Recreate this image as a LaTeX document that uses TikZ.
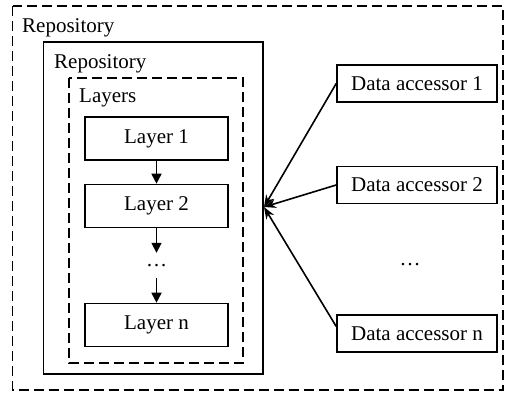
\documentclass[tikz,border=0pt]{standalone}
\usepackage{fontspec}
\setmainfont{Liberation Serif}
\usetikzlibrary{arrows.meta}
\begin{document}
\begin{tikzpicture}[x=1pt,y=-1pt,
  box/.style={draw,line width=1.6pt,minimum width=143pt,minimum height=43pt,inner sep=0pt,font=\fontsize{21}{24}\selectfont},
  dbox/.style={draw,line width=1.6pt,minimum width=160pt,minimum height=37pt,inner sep=0pt,font=\fontsize{21}{24}\selectfont},
  frame/.style={line width=1.6pt},
  dashframe/.style={line width=1.6pt,dash pattern=on 10pt off 5pt},
  lbl/.style={anchor=base west,inner sep=0pt,font=\fontsize{21}{24}\selectfont},
  larrow/.style={line width=1.6pt,-{Triangle[length=10pt,width=10pt]}},
  darrow/.style={line width=1.6pt,-{Stealth[length=12pt,width=9pt]}}]
\useasboundingbox (0,0) rectangle (506,392);
\draw[dashframe] (12.5,6) rectangle (503,390);
\node[lbl] (t0) at (22,32) {Repository};
\draw[frame] (43.5,42) rectangle (263,374);
\node[lbl] (t1) at (54,68) {Repository};
\draw[dashframe] (69,78) rectangle (243,363);
\node[lbl] (t2) at (79,102) {Layers};
\node[box] (l1) at (156.5,138.5) {Layer 1};
\node[box] (l2) at (156.5,206) {Layer 2};
\node[inner sep=0pt,minimum height=25pt,font=\fontsize{21}{24}\selectfont] (ld) at (156.5,265.5) {…};
\node[box] (ln) at (156.5,325) {Layer n};
\draw[larrow] (l1) -- (l2);
\draw[larrow] (l2) -- (ld);
\draw[larrow] (ld) -- (ln);
\node[dbox] (d1) at (417,83.5) {Data accessor 1};
\node[dbox] (d2) at (417,185) {Data accessor 2};
\node[font=\fontsize{21}{24}\selectfont,inner sep=0pt] (dd) at (410,265) {…};
\node[dbox] (dn) at (417,333.5) {Data accessor n};
\coordinate (tg) at (264,207);
\draw[darrow] (d1.west) -- (tg);
\draw[darrow] (d2.west) -- (tg);
\draw[darrow] (dn.175) -- (tg);
\end{tikzpicture}
\end{document}
